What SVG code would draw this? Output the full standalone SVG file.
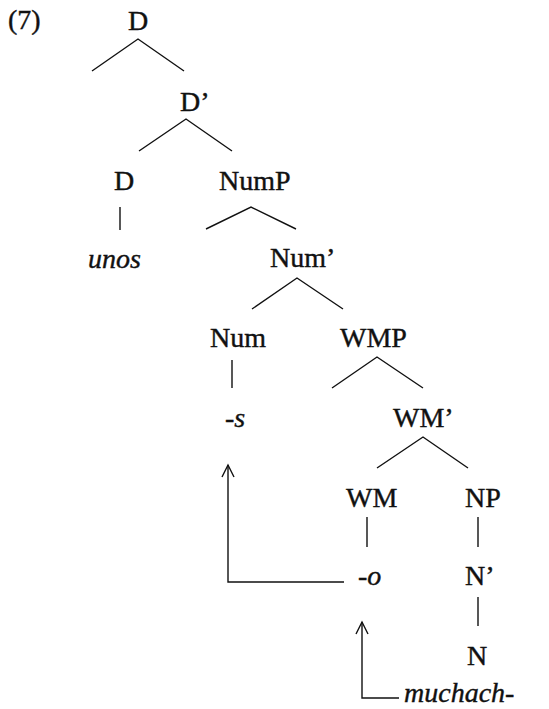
<svg xmlns="http://www.w3.org/2000/svg" width="549" height="709" viewBox="0 0 549 709">
<defs>
<style>
text{font-family:'Liberation Serif','DejaVu Serif',serif;font-size:28px;fill:#111;stroke:#111;stroke-width:0.4}
.it{font-style:italic}
.e{stroke:#111;stroke-width:1.4;fill:none}
</style>
<marker id="ah" markerWidth="15" markerHeight="15" refX="13" refY="7.5" orient="auto" markerUnits="userSpaceOnUse" viewBox="0 0 15 15">
<path d="M1,1.5 L13,7.5 L1,13.5" fill="none" stroke="#111" stroke-width="1.4"/>
</marker>
</defs>
<rect width="549" height="709" fill="#fff"/>
<g font-family="Liberation Serif, DejaVu Serif, serif">
<text x="8" y="29">(7)</text>
<g id="n-D-top"><text x="138" y="30" text-anchor="middle">D</text></g>
<g id="n-Dbar"><text x="180" y="111">D’</text></g>
<g id="n-D"><text x="124" y="190" text-anchor="middle">D</text></g>
<g id="n-unos"><text class="it" x="88" y="268">unos</text></g>
<g id="n-NumP"><text x="219" y="190">NumP</text></g>
<g id="n-Numbar"><text x="270" y="267">Num’</text></g>
<g id="n-Num"><text x="210" y="347">Num</text></g>
<g id="n-WMP"><text x="340" y="347">WMP</text></g>
<g id="n-s"><text class="it" x="225" y="427">-s</text></g>
<g id="n-WMbar"><text x="393" y="427">WM’</text></g>
<g id="n-WM"><text x="346" y="507">WM</text></g>
<g id="n-NP"><text x="465" y="507">NP</text></g>
<g id="n-o"><text class="it" x="358" y="585">-o</text></g>
<g id="n-Nbar"><text x="465" y="585">N’</text></g>
<g id="n-N"><text x="467" y="665">N</text></g>
<g id="n-muchach"><text class="it" x="404" y="702">muchach-</text></g>
</g>
<g id="connectors" class="e">
<path d="M92,71 L138,39 L184,71"/>
<path d="M139,151 L186,119 L232,151"/>
<path d="M120,207 V230"/>
<path d="M206,229 L251,207 L296,229"/>
<path d="M252,309 L297,278 L343,309"/>
<path d="M232,360 V388"/>
<path d="M332,388 L377,357 L423,388"/>
<path d="M377,468 L423,437 L468,468"/>
<path d="M367,517 V547"/>
<path d="M478,517 V547"/>
<path d="M478,597 V626"/>
<path d="M344,582 H228 V465" marker-end="url(#ah)"/>
<path d="M399,698 H362 V622" marker-end="url(#ah)"/>
</g>
</svg>
